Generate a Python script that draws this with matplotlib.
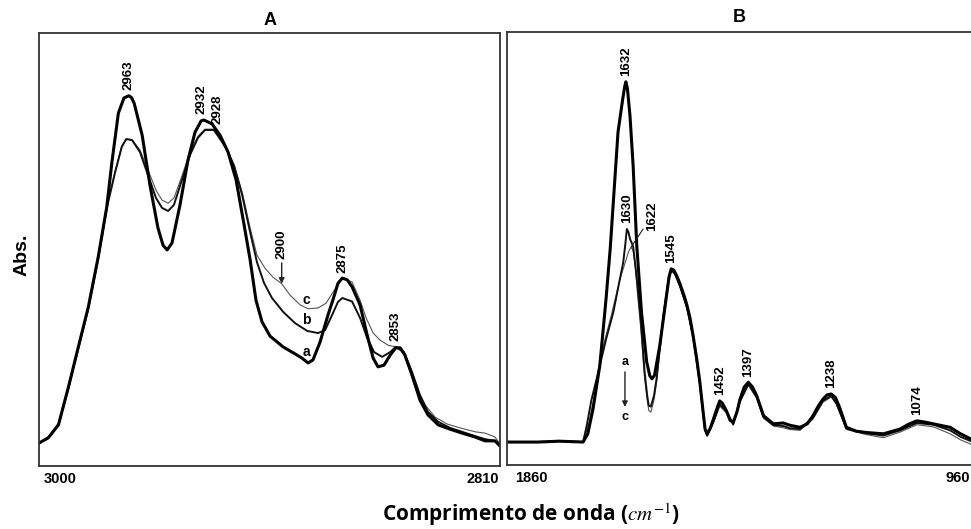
import matplotlib.pyplot as plt

plt.rcParams["font.family"] = ["Liberation Sans", "DejaVu Sans"]
plt.rcParams["mathtext.fontset"] = "stix"

# ---- Panel A: 3000-2810 cm-1 (C-H stretching) ----
A_WN_A = [3000, 2996.2, 2992.0, 2987.9, 2983.8, 2979.7, 2975.6, 2972.1, 2970.0, 2967.3,
          2965.0, 2963, 2961.9, 2960.8, 2957.5, 2954.3, 2951.0, 2948.9, 2947.2, 2945.2,
          2941.9, 2938.6, 2935.7, 2933.2, 2932, 2928.7, 2925.4, 2922.1, 2918.8, 2915.5,
          2913.0, 2910.6, 2908.1, 2904.8, 2899.4, 2894.5, 2891.6, 2889.1, 2887.1, 2884.2,
          2880.9, 2878.8, 2876.8, 2875, 2873.0, 2871.0, 2867.7, 2864.8, 2862.3, 2860.3,
          2857.8, 2855.3, 2853, 2851.2, 2849.2, 2846.3, 2843.0, 2839.7, 2835.5, 2830.6,
          2825.7, 2820.3, 2816.2, 2812.1, 2810]
A_ABS_A = [0.053, 0.065, 0.095, 0.182, 0.275, 0.367, 0.483, 0.598, 0.700, 0.815,
           0.850, 0.855, 0.851, 0.838, 0.764, 0.649, 0.550, 0.510, 0.499, 0.515,
           0.603, 0.707, 0.771, 0.797, 0.799, 0.790, 0.764, 0.725, 0.661, 0.557,
           0.476, 0.383, 0.333, 0.300, 0.275, 0.259, 0.249, 0.238, 0.245, 0.286,
           0.349, 0.385, 0.422, 0.434, 0.430, 0.414, 0.372, 0.303, 0.249, 0.229,
           0.233, 0.256, 0.273, 0.273, 0.256, 0.210, 0.152, 0.118, 0.095, 0.085,
           0.076, 0.067, 0.058, 0.058, 0.046]

A_WN_B = [3000, 2996.2, 2992.0, 2987.9, 2983.8, 2979.7, 2975.6, 2972.1, 2968.7, 2965.9,
          2964.1, 2961.7, 2958.4, 2955.1, 2951.8, 2949.3, 2946.8, 2944.4, 2941.1, 2937.8,
          2934.5, 2931.6, 2928, 2926.2, 2922.9, 2919.6, 2916.3, 2913.0, 2910.2, 2907.3,
          2904.0, 2899.4, 2894.5, 2889.5, 2885.0, 2882.1, 2879.2, 2876.8, 2875, 2871.0,
          2867.7, 2864.8, 2861.9, 2858.6, 2855.3, 2853, 2849.6, 2846.3, 2843.0, 2839.7,
          2835.5, 2830.6, 2825.7, 2820.3, 2816.2, 2812.1, 2810]
A_ABS_B = [0.053, 0.065, 0.095, 0.180, 0.272, 0.364, 0.480, 0.595, 0.677, 0.737,
           0.755, 0.753, 0.725, 0.672, 0.619, 0.596, 0.589, 0.603, 0.661, 0.718,
           0.758, 0.776, 0.776, 0.762, 0.734, 0.693, 0.626, 0.540, 0.471, 0.423,
           0.388, 0.356, 0.330, 0.312, 0.307, 0.314, 0.349, 0.379, 0.388, 0.380,
           0.342, 0.296, 0.263, 0.252, 0.263, 0.275, 0.263, 0.217, 0.164, 0.125,
           0.102, 0.088, 0.079, 0.069, 0.062, 0.058, 0.048]

A_WN_C = [3000, 2996.2, 2992.0, 2987.9, 2983.8, 2979.7, 2975.6, 2972.1, 2968.7, 2965.9,
          2963.7, 2961.3, 2958.4, 2955.1, 2951.8, 2949.3, 2946.8, 2944.4, 2941.1, 2937.8,
          2934.5, 2931.6, 2928, 2926.2, 2922.9, 2919.6, 2916.3, 2913.0, 2910.2, 2906.9,
          2903.6, 2900, 2896.6, 2892.4, 2889.1, 2885.0, 2881.7, 2878.8, 2876.0, 2875,
          2871.0, 2867.7, 2865.2, 2862.3, 2859.5, 2856.2, 2853, 2850.4, 2847.9, 2844.6,
          2840.9, 2836.8, 2831.8, 2826.5, 2820.3, 2816.2, 2812.1, 2810]
A_ABS_C = [0.053, 0.067, 0.099, 0.185, 0.277, 0.369, 0.485, 0.600, 0.680, 0.740,
           0.755, 0.751, 0.730, 0.684, 0.637, 0.614, 0.607, 0.619, 0.670, 0.725,
           0.762, 0.778, 0.778, 0.764, 0.737, 0.695, 0.633, 0.550, 0.487, 0.457,
           0.436, 0.421, 0.395, 0.372, 0.363, 0.365, 0.376, 0.402, 0.425, 0.434,
           0.425, 0.383, 0.342, 0.307, 0.291, 0.279, 0.275, 0.268, 0.233, 0.180,
           0.141, 0.113, 0.097, 0.088, 0.079, 0.076, 0.067, 0.051]

# ---- Panel B: 1860-960 cm-1 (amide / fingerprint) ----
B_WN_A = [1860, 1800, 1760, 1714, 1705, 1695, 1682, 1670, 1662, 1647,
          1638, 1634, 1632, 1629, 1624, 1618, 1611, 1602, 1592, 1586,
          1582, 1577, 1567, 1554, 1549, 1545, 1540, 1534, 1528, 1520,
          1515, 1509, 1503, 1496, 1490, 1484, 1480, 1476, 1470, 1464,
          1456, 1452, 1447, 1439, 1432, 1426, 1419, 1413, 1405, 1397,
          1389, 1381, 1368, 1349, 1330, 1318, 1298, 1284, 1273, 1262,
          1254, 1246, 1238, 1230, 1222, 1209, 1190, 1170, 1138, 1106,
          1090, 1074, 1058, 1042, 1010, 990, 970]
B_ABS_A = [0.053, 0.053, 0.055, 0.053, 0.072, 0.129, 0.229, 0.383, 0.499, 0.769,
           0.845, 0.875, 0.885, 0.870, 0.806, 0.691, 0.506, 0.353, 0.238, 0.206,
           0.199, 0.207, 0.275, 0.391, 0.435, 0.453, 0.450, 0.436, 0.418, 0.390,
           0.370, 0.340, 0.299, 0.245, 0.191, 0.125, 0.083, 0.072, 0.085, 0.106,
           0.135, 0.148, 0.143, 0.125, 0.103, 0.099, 0.122, 0.152, 0.180, 0.191,
           0.180, 0.160, 0.114, 0.095, 0.097, 0.092, 0.087, 0.095, 0.114, 0.138,
           0.152, 0.162, 0.164, 0.156, 0.133, 0.087, 0.078, 0.075, 0.072, 0.083,
           0.094, 0.102, 0.099, 0.095, 0.087, 0.072, 0.060]

B_WN_B = [1860, 1800, 1760, 1714, 1707, 1698, 1688, 1670, 1656, 1645,
          1637, 1633, 1630, 1627, 1624, 1618, 1610, 1603, 1596, 1591,
          1588, 1584, 1578, 1573, 1560, 1550, 1545, 1538, 1528, 1515,
          1503, 1490, 1480, 1476, 1464, 1452, 1439, 1426, 1413, 1397,
          1381, 1368, 1349, 1330, 1318, 1298, 1273, 1254, 1238, 1228,
          1209, 1170, 1138, 1106, 1074, 1042, 1010, 990, 970]
B_ABS_B = [0.053, 0.053, 0.055, 0.053, 0.091, 0.150, 0.199, 0.290, 0.353, 0.420,
           0.468, 0.510, 0.545, 0.538, 0.522, 0.505, 0.420, 0.330, 0.215, 0.160,
           0.137, 0.135, 0.160, 0.200, 0.345, 0.430, 0.450, 0.443, 0.413, 0.365,
           0.297, 0.188, 0.080, 0.068, 0.100, 0.140, 0.124, 0.094, 0.148, 0.187,
           0.157, 0.111, 0.092, 0.090, 0.085, 0.083, 0.110, 0.148, 0.160, 0.142,
           0.084, 0.073, 0.068, 0.080, 0.097, 0.093, 0.080, 0.065, 0.055]

B_WN_C = [1860, 1800, 1760, 1714, 1703, 1688, 1675, 1660, 1643, 1630,
          1626, 1622, 1618, 1614, 1610, 1603, 1596, 1591, 1588, 1584,
          1578, 1573, 1560, 1550, 1545, 1538, 1528, 1515, 1503, 1490,
          1480, 1476, 1464, 1452, 1439, 1426, 1413, 1397, 1381, 1368,
          1349, 1330, 1318, 1298, 1273, 1254, 1238, 1228, 1209, 1170,
          1138, 1106, 1074, 1042, 1010, 990, 970]
B_ABS_C = [0.053, 0.053, 0.055, 0.053, 0.095, 0.185, 0.276, 0.345, 0.430, 0.480,
           0.495, 0.503, 0.495, 0.460, 0.400, 0.310, 0.200, 0.150, 0.126, 0.122,
           0.150, 0.191, 0.345, 0.428, 0.448, 0.440, 0.410, 0.362, 0.294, 0.185,
           0.078, 0.066, 0.098, 0.136, 0.120, 0.092, 0.145, 0.184, 0.154, 0.108,
           0.090, 0.086, 0.082, 0.080, 0.106, 0.145, 0.157, 0.140, 0.082, 0.070,
           0.063, 0.076, 0.093, 0.088, 0.072, 0.058, 0.048]

# peak labels: (wavenumber, curve the label sits on, horizontal nudge in points)
A_PEAKS = [(2963, "a", 0), (2932, "a", -2), (2928, "c", 3), (2875, "a", 0), (2853, "c", 0)]
B_PEAKS = [(1632, "a", 0), (1630, "b", 0), (1545, "a", 0), (1452, "a", 0), (1397, "a", 0),
           (1238, "a", 0), (1074, "a", 0)]

STYLES = {"c": dict(color="#555555", lw=0.8),
          "b": dict(color="#111111", lw=1.4),
          "a": dict(color="#000000", lw=2.2)}

FRAME = "#333333"
LABEL_KW = dict(rotation=90, ha="center", va="bottom", fontsize=9.5,
                fontweight="bold", textcoords="offset points")


def value_at(wn, absorb, target):
    return absorb[wn.index(target)]


def setup_axes(ax, xlim):
    ax.set_xlim(*xlim)
    ax.set_ylim(0, 1)
    ax.set_xticks([])
    ax.set_yticks([])
    for spine in ax.spines.values():
        spine.set_color(FRAME)
        spine.set_linewidth(1.3)


fig = plt.figure(figsize=(9.71, 5.29), dpi=100)
ax_a = fig.add_axes([0.0402, 0.1191, 0.4748, 0.8185])
ax_b = fig.add_axes([0.5221, 0.121, 0.4779, 0.8185])

curves_a = {"a": (A_WN_A, A_ABS_A), "b": (A_WN_B, A_ABS_B), "c": (A_WN_C, A_ABS_C)}
curves_b = {"a": (B_WN_A, B_ABS_A), "b": (B_WN_B, B_ABS_B), "c": (B_WN_C, B_ABS_C)}

for ax, curves in ((ax_a, curves_a), (ax_b, curves_b)):
    for key in ("c", "b", "a"):
        wn, absorb = curves[key]
        ax.plot(wn, absorb, solid_joinstyle="round", solid_capstyle="round", **STYLES[key])

setup_axes(ax_a, (3000, 2810))
setup_axes(ax_b, (1860, 970))
ax_b.spines["right"].set_visible(False)

ax_a.set_title("A", fontsize=13, fontweight="bold", pad=6)
ax_b.set_title("B", fontsize=13, fontweight="bold", pad=7)

# peak positions
for ax, peaks, curves in ((ax_a, A_PEAKS, curves_a), (ax_b, B_PEAKS, curves_b)):
    for peak, key, dx in peaks:
        wn, absorb = curves[key]
        ax.annotate(str(peak), xy=(peak, value_at(wn, absorb, peak)), xytext=(dx, 4), **LABEL_KW)

# 2900 shoulder with arrow
ax_a.annotate("2900", xy=(2900, value_at(A_WN_C, A_ABS_C, 2900)), xytext=(0, 18),
              arrowprops=dict(arrowstyle="-|>", lw=1.0, color="#222222",
                              mutation_scale=8, shrinkA=1, shrinkB=0),
              **LABEL_KW)

# 1622 with leader line
ax_b.annotate("1622", xy=(1622, value_at(B_WN_C, B_ABS_C, 1622)), xytext=(15, 12),
              arrowprops=dict(arrowstyle="-", lw=0.8, color="#222222",
                              shrinkA=0, shrinkB=0),
              **LABEL_KW)

# sample letters
for letter, y in (("c", 0.383), ("b", 0.337), ("a", 0.263)):
    ax_a.text(2889.8, y, letter, ha="center", va="center", fontsize=10, fontweight="bold")

ax_b.text(1633.7, 0.238, "a", ha="center", va="center", fontsize=9, fontweight="bold")
ax_b.text(1633.7, 0.111, "c", ha="center", va="center", fontsize=9, fontweight="bold")
ax_b.annotate("", xy=(1633.7, 0.134), xytext=(1633.7, 0.215),
              arrowprops=dict(arrowstyle="-|>", lw=1.0, color="#222222",
                              mutation_scale=8, shrinkA=0, shrinkB=0))

# range ends
tick_kw = dict(va="top", fontsize=10.5, fontweight="bold")
ax_a.text(0.011, -0.013, "3000", ha="left", transform=ax_a.transAxes, **tick_kw)
ax_a.text(0.998, -0.013, "2810", ha="right", transform=ax_a.transAxes, **tick_kw)
ax_b.text(0.017, -0.013, "1860", ha="left", transform=ax_b.transAxes, **tick_kw)
ax_b.text(0.998, -0.013, "960", ha="right", transform=ax_b.transAxes, **tick_kw)

fig.text(0.0227, 0.518, "Abs.", rotation=90, ha="center", va="center",
         fontsize=14, fontweight="bold")
fig.text(0.547, 0.028, r"Comprimento de onda ($cm^{-1}$)", ha="center", va="center",
         fontsize=15, fontweight="bold", family=["Open Sans", "DejaVu Sans"])

fig.savefig("out.png", dpi=100, facecolor="white")
